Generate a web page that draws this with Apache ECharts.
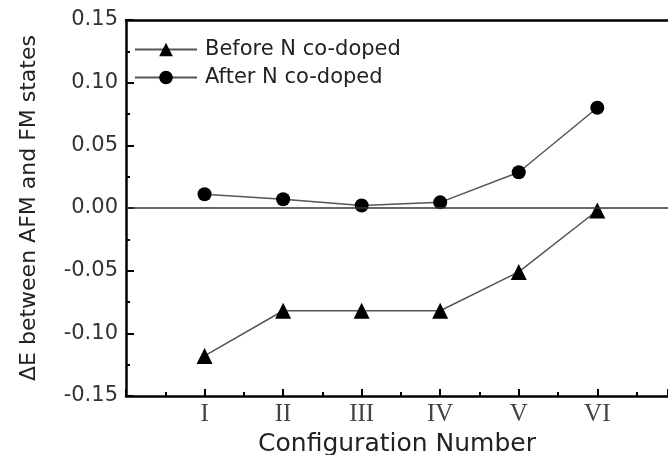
<!DOCTYPE html>
<html>
<head>
<meta charset="utf-8">
<script src="https://cdn.jsdelivr.net/npm/echarts@6/dist/echarts.min.js"></script>
<style>
html,body{margin:0;padding:0;background:#fff;}
#chart{width:668px;height:455px;}
</style>
</head>
<body>
<div id="chart"></div>
<script>
var categories = ['I', 'II', 'III', 'IV', 'V', 'VI'];
var positions = [1, 2, 3, 4, 5, 6];
var beforeValues = [-0.118, -0.082, -0.082, -0.082, -0.051, -0.002];
var afterValues = [0.011, 0.007, 0.002, 0.0045, 0.0285, 0.080];
var seriesNames = ['Before N co-doped', 'After N co-doped'];

function pairs(vals) {
  return vals.map(function (v, i) { return [positions[i], v]; });
}

var chart = echarts.init(document.getElementById('chart'));
var sansFont = '"DejaVu Sans", "Liberation Sans", Arial, sans-serif';
chart.setOption({
  animation: false,
  backgroundColor: '#fff',
  grid: { left: 126, top: 20, right: 0, bottom: 59, containLabel: false, outerBoundsMode: 'none' },
  legend: {
    left: 134, top: 39, orient: 'vertical', itemGap: 7,
    itemWidth: 62, itemHeight: 17, padding: 0,
    textStyle: { fontFamily: sansFont, fontSize: 21, color: '#222', padding: [0, 0, 0, 3] },
    data: seriesNames
  },
  xAxis: [{
    type: 'value', min: 0, max: 6.9, interval: 1,
    axisLine: { onZero: false, lineStyle: { color: '#000', width: 2.5 } },
    axisTick: { inside: true, length: 7, lineStyle: { color: '#000', width: 2 } },
    minorTick: { show: true, splitNumber: 2, length: 4, lineStyle: { color: '#000', width: 2 } },
    splitLine: { show: false },
    axisLabel: {
      margin: 6,
      fontFamily: '"Liberation Serif", "Times New Roman", serif',
      fontSize: 25, color: '#444',
      showMinLabel: false, showMaxLabel: false,
      formatter: function (v) { var i = positions.indexOf(v); return i >= 0 ? categories[i] : ''; }
    },
    name: 'Configuration Number', nameLocation: 'middle', nameGap: 29,
    nameTextStyle: { fontFamily: sansFont, fontSize: 25, color: '#222' }
  }, {
    type: 'value', position: 'top', min: 0, max: 6.9,
    axisLine: { show: true, onZero: false, lineStyle: { color: '#000', width: 2.5 } },
    axisTick: { show: false }, axisLabel: { show: false }, splitLine: { show: false }
  }],
  yAxis: {
    type: 'value', min: -0.15, max: 0.15, interval: 0.05,
    axisLine: { onZero: false, lineStyle: { color: '#000', width: 2.5 } },
    axisTick: { inside: true, length: 8, lineStyle: { color: '#000', width: 2 } },
    minorTick: { show: true, splitNumber: 2, length: 4, lineStyle: { color: '#000', width: 2 } },
    splitLine: { show: false },
    axisLabel: {
      margin: 8, fontFamily: sansFont, fontSize: 21, color: '#333',
      formatter: function (v) { return v.toFixed(2); }
    },
    name: '\u0394E between AFM and FM states', nameLocation: 'middle', nameGap: 86,
    nameTextStyle: { fontFamily: sansFont, fontSize: 22, color: '#222' }
  },
  series: [{
    name: seriesNames[0], type: 'line', data: pairs(beforeValues),
    symbol: 'triangle', symbolSize: 16,
    itemStyle: { color: '#000' },
    lineStyle: { color: '#555', width: 1.5 },
    markLine: {
      silent: true, symbol: ['none', 'none'], label: { show: false },
      lineStyle: { color: '#333', width: 1.5, type: 'solid' },
      data: [{ yAxis: 0 }]
    }
  }, {
    name: seriesNames[1], type: 'line', data: pairs(afterValues),
    symbol: 'circle', symbolSize: 14,
    itemStyle: { color: '#000' },
    lineStyle: { color: '#555', width: 1.5 }
  }]
});
</script>
</body>
</html>
